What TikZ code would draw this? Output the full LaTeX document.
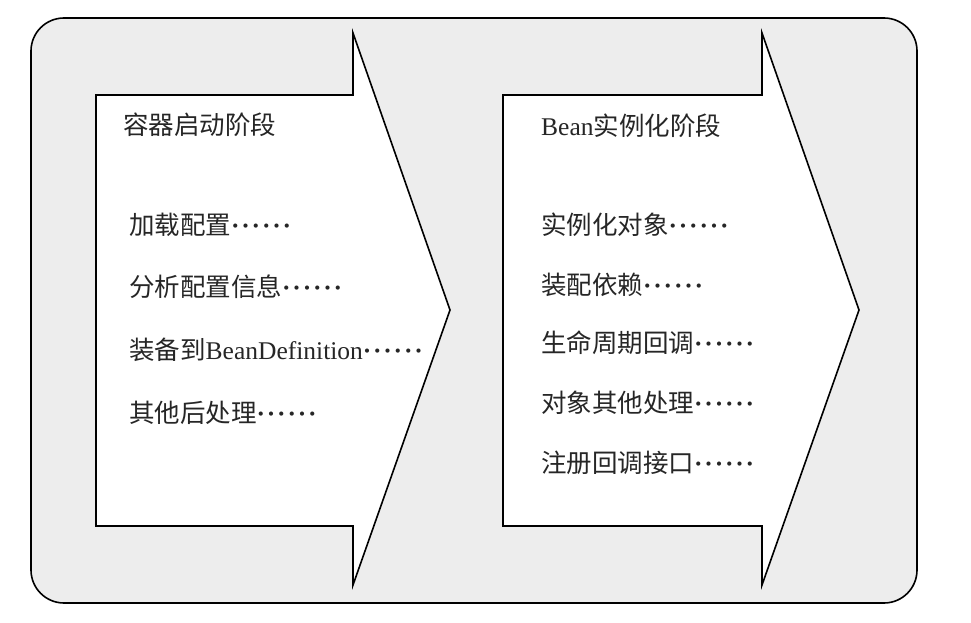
\documentclass[tikz,border=0pt]{standalone}
\usepackage{fontspec}
\setmainfont{Liberation Serif}
\newfontfamily\cjk{Noto Sans CJK SC}
\newfontfamily\dotfont[LetterSpace=7]{Liberation Serif Bold}
\usetikzlibrary{positioning}

\newcommand{\etcdots}{{\dotfont ······}}

\begin{document}
\begin{tikzpicture}
  [
    x=1pt, y=-1pt,
    frame/.style = {draw, line width=1.6pt, rounded corners=33pt, fill=black!7},
    phase/.style = {draw, line width=1.6pt, fill=white, line join=miter},
    txt/.style   = {anchor=west, inner sep=0pt, text=black!85,
                    font=\fontsize{25.5}{28}\selectfont\cjk},
  ]
 \useasboundingbox (0,0) rectangle (971,623);

 \draw[frame] (31,18) rectangle (917,603);

 % container start-up phase
 \coordinate (A1) at (96,95);
 \coordinate (A2) at (353,95);
 \coordinate (A3) at (353,33);
 \coordinate (A4) at (450,310);
 \coordinate (A5) at (353,585);
 \coordinate (A6) at (353,526);
 \coordinate (A7) at (96,526);
\draw[phase] (A1) -- (A2) -- (A3) -- (A4) -- (A5) -- (A6) -- (A7) --cycle;

 % bean instantiation phase
 \coordinate (B1) at (503,95);
 \coordinate (B2) at (762,95);
 \coordinate (B3) at (762,33);
 \coordinate (B4) at (859,310);
 \coordinate (B5) at (762,585);
 \coordinate (B6) at (762,526);
 \coordinate (B7) at (503,526);
\draw[phase] (B1) -- (B2) -- (B3) -- (B4) -- (B5) -- (B6) -- (B7) --cycle;

 \node[txt] (startTitle) at (123,125) {容器启动阶段};
 \node[txt] (load)    at (129,225) {加载配置\etcdots};
 \node[txt] (parse)   at (129,287) {分析配置信息\etcdots};
 \node[txt] (assemble) at (129,350) {装备到{\rmfamily BeanDefinition}\etcdots};
 \node[txt] (post)    at (129,413) {其他后处理\etcdots};

 \node[txt] (beanTitle) at (541,126) {{\rmfamily Bean}实例化阶段};
 \node[txt] (inst)    at (541,225) {实例化对象\etcdots};
 \node[txt] (deps)    at (541,285) {装配依赖\etcdots};
 \node[txt] (life)    at (541,343) {生命周期回调\etcdots};
 \node[txt] (other)   at (541,403) {对象其他处理\etcdots};
 \node[txt] (reg)     at (541,463) {注册回调接口\etcdots};

%  \draw[help lines] (0,0) grid[step=50] (971,623);
\end{tikzpicture}
\end{document}
